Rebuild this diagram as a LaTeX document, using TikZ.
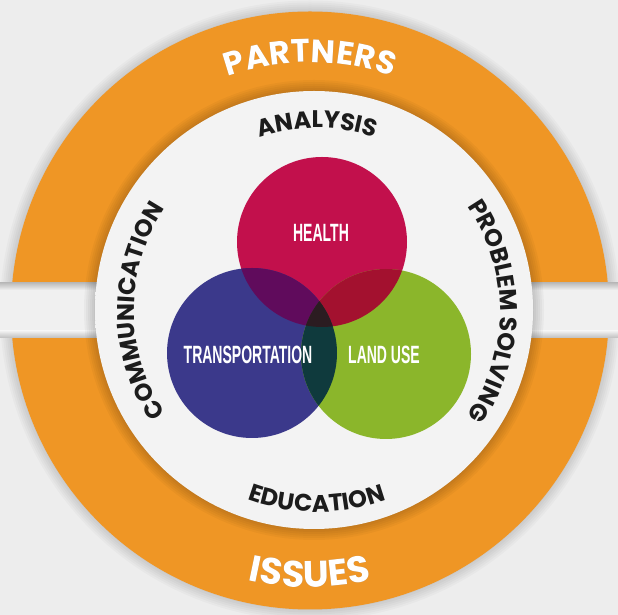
\documentclass[tikz,border=0pt]{standalone}
\usepackage{fontspec}
\usetikzlibrary{decorations.text}
\newfontfamily\ringfont{Poppins}
\newfontfamily\condfont{Liberation Sans}[FakeStretch=0.56]
\definecolor{bgcol}{HTML}{EDEDED}
\definecolor{gapcol}{HTML}{F0F0F0}
\definecolor{disccol}{HTML}{F3F3F3}
\definecolor{discedgea}{HTML}{E4E4E4}
\definecolor{discedgeb}{HTML}{BEBEBE}
\definecolor{ringorange}{HTML}{EF9625}
\definecolor{ringshadow}{HTML}{A85E0C}
\definecolor{healthcol}{HTML}{C2104C}
\definecolor{transcol}{HTML}{3B398B}
\definecolor{landcol}{HTML}{8BB62B}
\definecolor{htcol}{HTML}{600B5C}
\definecolor{hlcol}{HTML}{A3112F}
\definecolor{tlcol}{HTML}{0F3A3D}
\definecolor{hltcol}{HTML}{2B1C21}
\definecolor{inktext}{HTML}{1C1C1C}
\pgfdeclareradialshading{innerdisc}{\pgfpoint{0bp}{0bp}}{color(0bp)=(disccol); color(46bp)=(disccol); color(48.6bp)=(discedgea); color(50bp)=(discedgeb)}
\newcommand\innerlabel{\ringfont\bfseries\fontsize{24}{24}\selectfont}
\newcommand\outerlabel{\ringfont\bfseries\fontsize{32.5}{32.5}\selectfont}
\newcommand\issueslabel{\ringfont\bfseries\fontsize{37}{37}\selectfont}
\tikzset{
  circlabel/.style={text=white, inner sep=0pt, font=\condfont\bfseries\fontsize{25}{25}\selectfont},
  inneralong/.style={decorate, decoration={text along path, text align=center, text color=inktext, text={|\innerlabel|#1}}},
  outeralong/.style={decorate, decoration={text along path, text align=center, text color=white, text={|\outerlabel|#1}}},
  outershadow/.style={decorate, decoration={text along path, text align=center, text color=ringshadow, text={|\outerlabel|#1}}},
  issuesalong/.style={decorate, decoration={text along path, text align=center, text color=white, text={|\issueslabel|#1}}},
  issuesshadow/.style={decorate, decoration={text along path, text align=center, text color=ringshadow, text={|\issueslabel|#1}}},
}
\begin{document}
\begin{tikzpicture}[x=1pt,y=1pt]
\useasboundingbox (0,0) rectangle (618,615);
\fill[bgcol] (0,0) rectangle (618,615);
\coordinate (ringc) at (310,304.5);
\coordinate (discc) at (314,305);
\coordinate (textc) at (317,304);
% soft shadow of the orange ring
\foreach \r in {300,302,...,310} \fill[black,opacity=0.025] (ringc) circle (\r);
\fill[ringorange] (ringc) circle (299);
% horizontal gap through the ring
\fill[gapcol] (0,277) rectangle (618,332);
\shade[top color=gapcol, bottom color=gray!45!gapcol] (0,277) rectangle (618,284);
\shade[bottom color=gapcol, top color=gray!45!gapcol] (0,325) rectangle (618,332);
% shadow of the inner disc
\foreach \r in {220,222,...,230} \fill[black,opacity=0.03] (discc) circle (\r);
\shade[shading=innerdisc] (discc) circle (219);
% Venn circles
\coordinate (hc) at (322,373);
\coordinate (tc) at (252,262);
\coordinate (lc) at (386,261);
\fill[healthcol] (hc) circle (85);
\fill[transcol] (tc) circle (85);
\fill[landcol] (lc) circle (85);
\begin{scope}\clip (hc) circle (85); \fill[htcol] (tc) circle (85);\end{scope}
\begin{scope}\clip (hc) circle (85); \fill[hlcol] (lc) circle (85);\end{scope}
\begin{scope}\clip (tc) circle (85); \fill[tlcol] (lc) circle (85);\end{scope}
\begin{scope}\clip (hc) circle (85); \clip (tc) circle (85); \fill[hltcol] (lc) circle (85);\end{scope}
\node[circlabel] (health) at (321,382) {HEALTH};
\node[circlabel] (transport) at (248,260) {TRANSPORTATION};
\node[circlabel] (landuse) at (384,260) {LAND USE};
% inner ring words
\path[inneralong={ANALYSIS}] (textc) ++(135:183) arc[start angle=135, end angle=45, radius=183];
\path[inneralong={EDUCATION}] (textc) ++(220:201) arc[start angle=220, end angle=320, radius=201];
\path[inneralong={COMMUNICATION}] (textc) ++(232:183) arc[start angle=232, end angle=128, radius=183];
\path[inneralong={PROBLEM SOLVING}] (textc) ++(52:183) arc[start angle=52, end angle=-52, radius=183];
% outer ring words
\begin{scope}[shift={(1.3,-1.8)}]
\path[outershadow={PARTNERS}] (ringc) ++(140:248) arc[start angle=140, end angle=40, radius=248];
\path[issuesshadow={ISSUES}] (ringc) ++(225:277) arc[start angle=225, end angle=315, radius=277];
\end{scope}
\path[outeralong={PARTNERS}] (ringc) ++(140:248) arc[start angle=140, end angle=40, radius=248];
\path[issuesalong={ISSUES}] (ringc) ++(225:277) arc[start angle=225, end angle=315, radius=277];
\end{tikzpicture}
\end{document}
